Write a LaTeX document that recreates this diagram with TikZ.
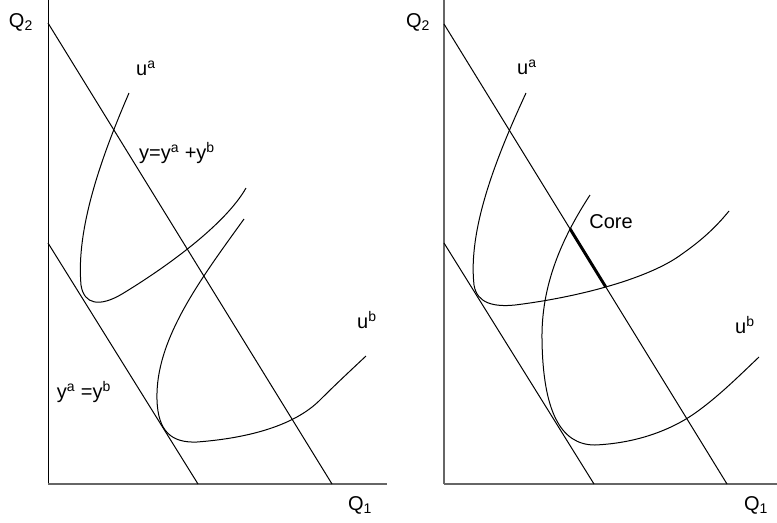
\documentclass[tikz,border=0pt]{standalone}
\usepackage{fontspec}
\setmainfont{Liberation Sans}
\usetikzlibrary{positioning,intersections}

\tikzset{
  axis/.style={draw=black!60, line width=1.1pt},
  budget/.style={draw=black, line width=0.75pt},
  indiff/.style={draw=black, line width=0.75pt},
  corestyle/.style={draw=black, line width=2.2pt},
  lbl/.style={font=\fontsize{15}{17}\selectfont, inner sep=0pt},
}

\begin{document}
\begin{tikzpicture}[x=0.75pt, y=-0.75pt]
\useasboundingbox (0,0) rectangle (777,522);

% left panel
\coordinate (oL) at (48,484);
\draw[axis, draw=black, line width=0.6pt] (oL) -- (48,0);
\draw[axis] (oL) -- (387,484);
\coordinate (l1a) at (48,23);
\coordinate (l1b) at (332,484);
\coordinate (l2a) at (48,243);
\coordinate (l2b) at (198,484);
\draw[budget] (l1a) -- (l1b);
\draw[budget] (l2a) -- (l2b);
\draw[indiff] (129,93) .. controls (100,160) and (76,230) .. (81,285)
  .. controls (84,305) and (100,307) .. (122,294)
  .. controls (165,268) and (225,225) .. (246,188);
\draw[indiff] (244,219) .. controls (200,280) and (155,340) .. (157,400)
  .. controls (158,432) and (172,443) .. (197,442)
  .. controls (250,438) and (295,425) .. (320,400)
  .. controls (335,385) and (350,371) .. (366,356);
\node[lbl] (q2L) at (21,22) {Q\textsubscript{2}};
\node[lbl] (q1L) at (360,505) {Q\textsubscript{1}};
\node[lbl] (uaL) at (146,68) {u\textsuperscript{a}};
\node[lbl] (ubL) at (367,320) {u\textsuperscript{b}};
\node[lbl] (sumL) at (177,153) {y=y\textsuperscript{a} +y\textsuperscript{b}};
\node[lbl] (eqL) at (84,392) {y\textsuperscript{a} =y\textsuperscript{b}};

% right panel
\coordinate (oR) at (444,484);
\draw[axis] (oR) -- (444,0);
\draw[axis] (oR) -- (777,484);
\coordinate (r1a) at (444,24);
\coordinate (r1b) at (727,484);
\coordinate (r2a) at (444,243);
\coordinate (r2b) at (594,484);
\draw[budget, name path=br] (r1a) -- (r1b);
\draw[budget] (r2a) -- (r2b);
\draw[indiff, name path=uaR] (526,93) .. controls (495,160) and (468,230) .. (474,285)
  .. controls (477,304) and (495,307) .. (515,305)
  .. controls (580,297) and (650,278) .. (682,254)
  .. controls (702,240) and (716,227) .. (729,211);
\draw[indiff, name path=ubR] (590,195) .. controls (562,238) and (541,285) .. (542,340)
  .. controls (543,410) and (560,445) .. (595,445)
  .. controls (640,443) and (675,428) .. (698,411)
  .. controls (720,395) and (740,375) .. (759,357);
\path[name intersections={of=br and ubR, sort by=br, by={c1}}];
\path[name intersections={of=br and uaR, sort by=br, by={c0,c2}}];
\draw[corestyle] (c1) -- (c2);
\node[lbl] (q2R) at (418,22) {Q\textsubscript{2}};
\node[lbl] (q1R) at (756,505) {Q\textsubscript{1}};
\node[lbl] (uaR) at (527,67) {u\textsuperscript{a}};
\node[lbl] (ubR) at (745,325) {u\textsuperscript{b}};
\node[lbl] (core) at (611,222) {Core};
\end{tikzpicture}
\end{document}
